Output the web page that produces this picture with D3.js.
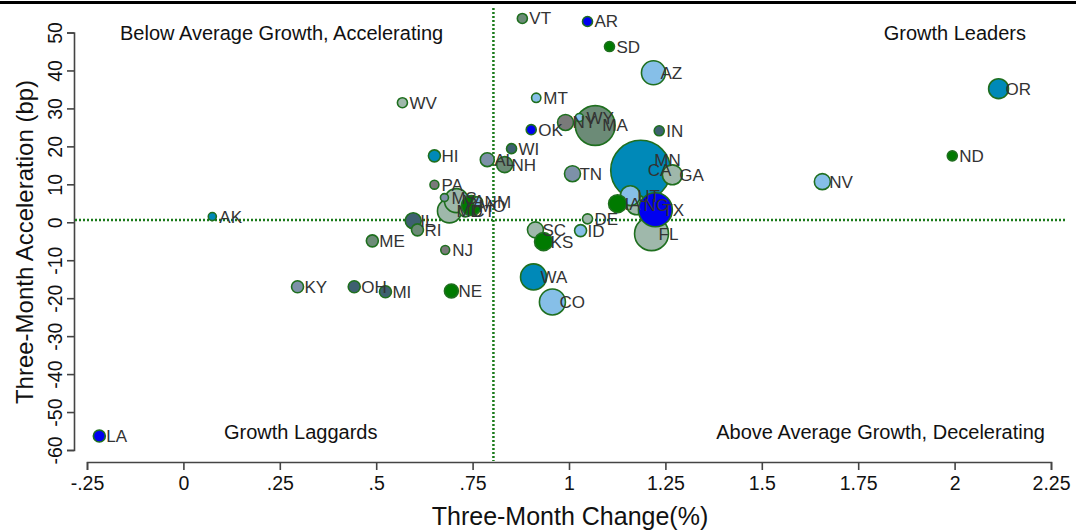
<!DOCTYPE html>
<html><head><meta charset="utf-8">
<script src="https://cdn.jsdelivr.net/npm/d3@7"></script>
<style>
body { margin: 0; background: #fff; }
text { font-family: Arial, "Liberation Sans", sans-serif; }
</style>
</head><body><svg width="1084" height="531"></svg>
<script>

// state, three-month change (%), three-month acceleration (bp), size weight, colour group
var states = ["MN","CA","GA","NC","UT","FL","TX","VT","AR","SD","AZ","OR","WV","MT","NY","MA","WY","OK","IN","WI","HI","AL","NH","ND","TN","IA","DE","SC","KS","ID","WA","CO","NV","NE","NJ","KY","OH","MI","ME","IL","RI","PA","AK","LA","MD","VA","MS","CT","MO","NM"];
var change = [1.203,1.186,1.268,1.175,1.159,1.214,1.224,0.879,1.048,1.105,1.219,2.114,0.568,0.915,0.991,1.068,1.027,0.902,1.234,0.851,0.651,0.788,0.833,1.994,1.009,1.126,1.048,0.913,0.934,1.030,0.908,0.957,1.657,0.695,0.679,0.296,0.443,0.524,0.490,0.596,0.607,0.651,0.075,-0.218,0.690,0.708,0.677,0.731,0.747,0.763];
var accel = [16.5,13.7,12.5,4.6,7.0,-3.0,3.3,53.7,52.9,46.3,39.4,35.2,31.5,32.8,26.3,25.5,27.6,24.4,24.1,19.4,17.5,16.5,15.2,17.5,12.8,4.9,0.9,-2.0,-5.1,-2.2,-14.4,-21.0,10.7,-18.1,-7.3,-17.0,-17.0,-18.3,-4.9,0.4,-2.0,9.9,1.5,-56.3,3.0,5.7,6.5,3.0,4.4,5.4];
var weight = [30,100,11,11,11,32,32,2.8,2.8,2.8,16,11,2.8,2.4,7.1,44,1.8,2.8,2.8,2.8,4,5.4,7.1,2.8,7.1,9,2.8,7.1,9,4,18.8,18.8,7.1,5.4,2.2,4,4,4,4,7.1,4,2.2,1.8,4,16,16,1.8,4,11,2.8];
var group = ["teal","teal","pale","pale","sky","pale","blue","sage","blue","green","sky","teal","pale","sky","gray","sage","sky","blue","slate","slate","teal","steel","sage","green","steel","green","pale","pale","green","sky","teal","sky","sky","green","gray","steel","slate","slate","sage","slate","sage","gray","teal","blue","pale","pale","steel","pale","green","sky"];

var groups = ["blue","green","sky","teal","sage","gray","slate","steel","pale"];
var groupColors = ["#0000f0","#007a00","#86bfe8","#0089b8","#6c8b77","#7a7a7a","#3e6070","#7d91a8","#9fb8ab"];

var xTicks = [-0.25,0,0.25,0.5,0.75,1,1.25,1.5,1.75,2,2.25];
var xTickLabels = ["-.25","0",".25",".5",".75","1","1.25","1.5","1.75","2","2.25"];
var yTicks = [-60,-50,-40,-30,-20,-10,0,10,20,30,40,50];

var meanChange = 0.804, meanAccel = 0.6;

var svg = d3.select("svg");

var x = d3.scaleLinear().domain([-0.25, 2.25]).range([87, 1051]);
var y = d3.scaleLinear().domain([-60, 50]).range([450, 32.5]);
var r = d3.scaleSqrt().domain([0, 100]).range([0, 30]);
var color = d3.scaleOrdinal().domain(groups).range(groupColors);

var data = states.map(function(s, i) {
  return {state: s, x: change[i], y: accel[i], w: weight[i], g: group[i]};
});

// top rule
svg.append("line").attr("x1", 0).attr("x2", 1076).attr("y1", 2.5).attr("y2", 2.5)
    .attr("stroke", "#000").attr("stroke-width", 3);

// axes
var xAxis = svg.append("g").attr("transform", "translate(0,462)")
    .call(d3.axisBottom(x).tickValues(xTicks).tickSizeOuter(0).tickSize(8).tickPadding(6)
      .tickFormat(function(d, i) { return xTickLabels[i]; }));
var yAxis = svg.append("g").attr("transform", "translate(74,0)")
    .call(d3.axisLeft(y).tickValues(yTicks).tickSizeOuter(0).tickSize(7)
      .tickFormat(function(d) { return String(d); }));

[xAxis, yAxis].forEach(function(a) {
  a.selectAll("path, line").attr("stroke", "#444").attr("stroke-width", 1.6);
  a.selectAll("text").attr("fill", "#111").style("font-size", "19.5px")
    .style("font-family", "Arial, 'Liberation Sans', sans-serif");
});
yAxis.selectAll(".tick text")
    .attr("x", 0).attr("dy", 0).attr("text-anchor", "middle")
    .attr("transform", "translate(-12,0) rotate(-90)");

// axis titles
svg.append("text").attr("x", 570).attr("y", 525).attr("text-anchor", "middle")
    .style("font-size", "25px").attr("fill", "#111").text("Three-Month Change(%)");
svg.append("text").attr("transform", "translate(33,242) rotate(-90)").attr("text-anchor", "middle")
    .style("font-size", "24px").attr("fill", "#111").text("Three-Month Acceleration (bp)");

// reference lines
svg.append("line").attr("x1", x(meanChange)).attr("x2", x(meanChange)).attr("y1", 8).attr("y2", 461)
    .attr("stroke", "#1a7a1a").attr("stroke-width", 2.5).attr("stroke-dasharray", "2,2");
svg.append("line").attr("x1", 75).attr("x2", 1065).attr("y1", y(meanAccel)).attr("y2", y(meanAccel))
    .attr("stroke", "#1a7a1a").attr("stroke-width", 2.5).attr("stroke-dasharray", "2,2");

// quadrant labels
var quad = svg.append("g").style("font-size", "20px").attr("fill", "#111");
quad.append("text").attr("x", 120).attr("y", 40).text("Below Average Growth, Accelerating");
quad.append("text").attr("x", 1026).attr("y", 40).attr("text-anchor", "end").text("Growth Leaders");
quad.append("text").attr("x", 224).attr("y", 439).text("Growth Laggards");
quad.append("text").attr("x", 1045).attr("y", 439).attr("text-anchor", "end").text("Above Average Growth, Decelerating");

// markers
svg.append("g").selectAll("circle").data(data).join("circle")
    .attr("cx", function(d) { return x(d.x); })
    .attr("cy", function(d) { return y(d.y); })
    .attr("r", function(d) { return r(d.w); })
    .attr("fill", function(d) { return color(d.g); })
    .attr("stroke", "#1f6f1f").attr("stroke-width", 1.6);

// labels
svg.append("g").selectAll("text").data(data).join("text")
    .attr("x", function(d) { return x(d.x) + 7; })
    .attr("y", function(d) { return y(d.y) + 6; })
    .style("font-size", "17px").attr("fill", "#333")
    .text(function(d) { return d.state; });

</script>
</body></html>
